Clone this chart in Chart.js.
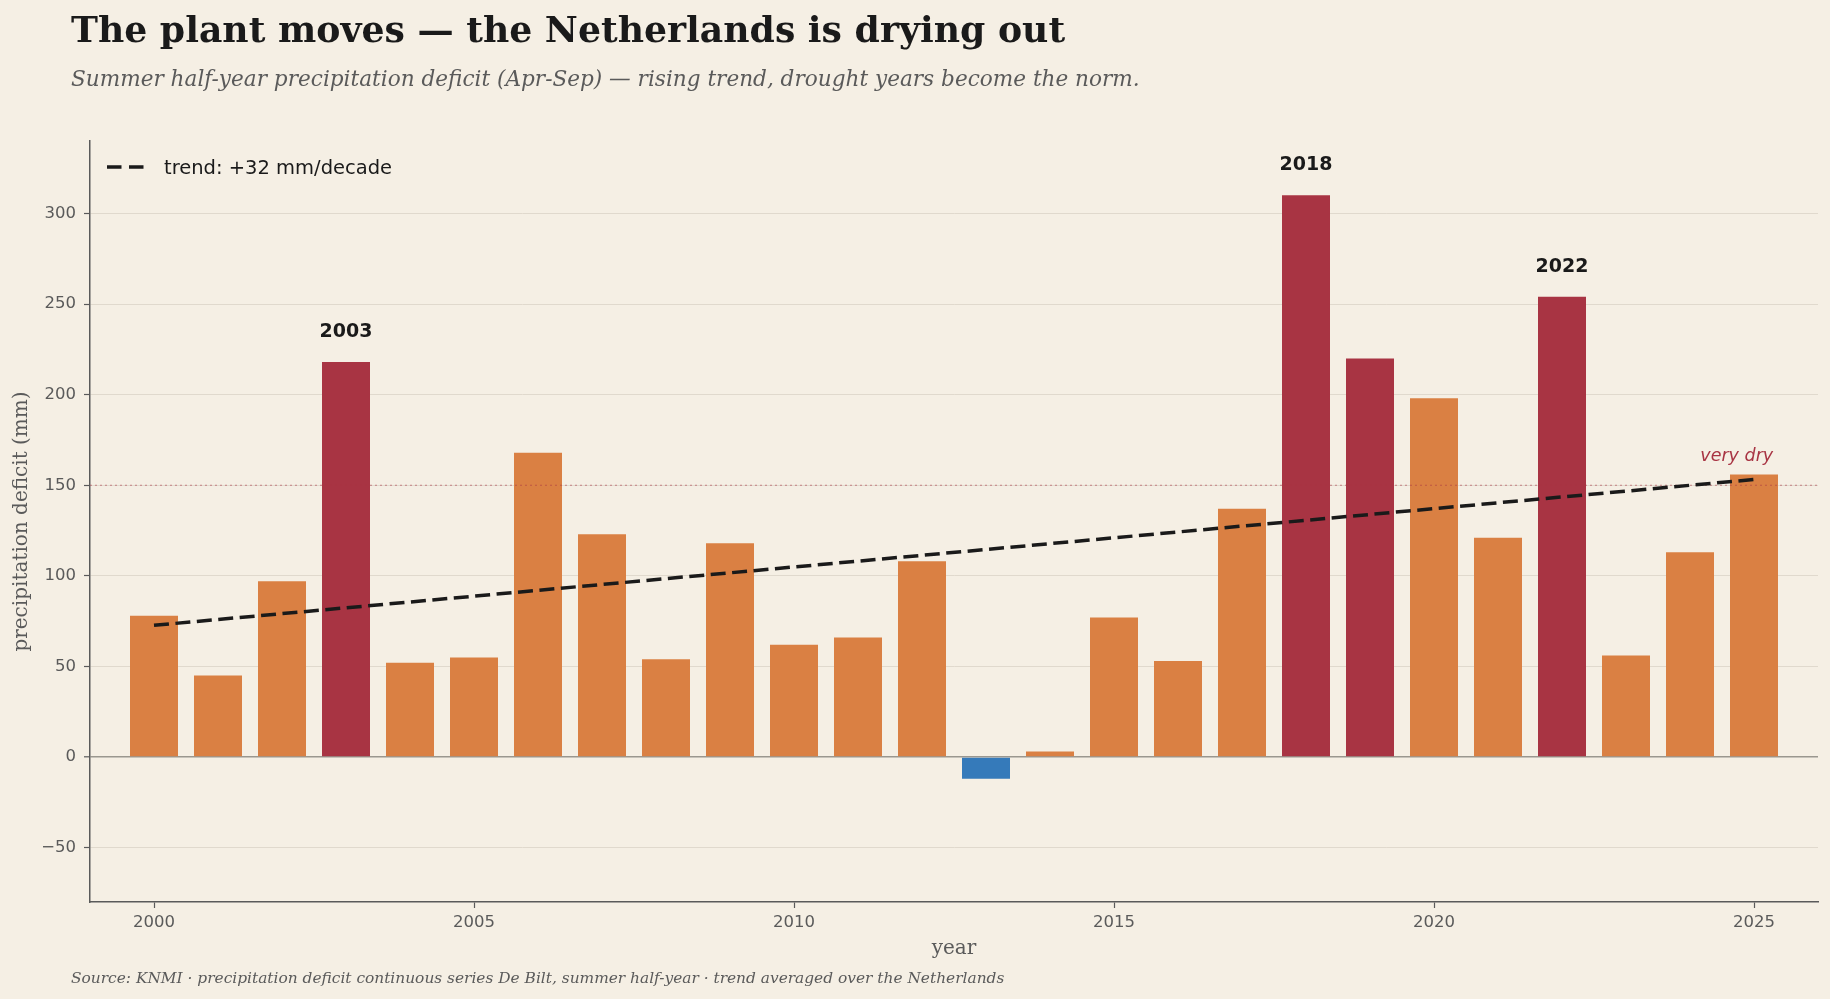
<!DOCTYPE html>
<html>
<head>
<meta charset="utf-8">
<script src="https://cdn.jsdelivr.net/npm/chart.js@4.4.1/dist/chart.umd.min.js"></script>
<style>
  html, body { margin: 0; padding: 0; background: #f5efe4; overflow: hidden; }
  canvas { display: block; }
</style>
</head>
<body>
<canvas id="deficitChart" width="1830" height="999"></canvas>
<script>
// Summer half-year precipitation deficit, De Bilt (mm)
const years = [2000, 2001, 2002, 2003, 2004, 2005, 2006, 2007, 2008, 2009, 2010, 2011, 2012,
               2013, 2014, 2015, 2016, 2017, 2018, 2019, 2020, 2021, 2022, 2023, 2024, 2025];
const deficit = [78, 45, 97, 218, 52, 55, 168, 123, 54, 118, 62, 66, 108,
                 -12, 3, 77, 53, 137, 310, 220, 198, 121, 254, 56, 113, 156];
const labelledYears = [2003, 2018, 2022];
const trendYears = [2000, 2025];
const trendValues = [72.7, 153.2];
const veryDry = 150;

const SANS = "'DejaVu Sans', sans-serif";
const SERIF = "'DejaVu Serif', serif";
const INK = '#1a1a1a';
const GREY = '#5a5a5a';

const barColors = deficit.map(v => v < 0 ? '#357aba' : v > 200 ? '#a83443' : '#da8043');

const decorations = {
    id: 'decorations',
    beforeDraw(chart) {
        const { ctx, width, height } = chart;
        ctx.save();
        ctx.fillStyle = '#f5efe4';
        ctx.fillRect(0, 0, width, height);
        ctx.restore();
    },
    beforeDatasetDraw(chart, args) {
        if (args.meta.type !== 'line') return;
        // dotted "very dry" threshold, under the trend line
        const { ctx, chartArea, scales: { y } } = chart;
        const yy = y.getPixelForValue(veryDry);
        ctx.save();
        ctx.strokeStyle = 'rgba(168,52,67,0.55)';
        ctx.lineWidth = 1.2;
        ctx.setLineDash([2, 3]);
        ctx.beginPath();
        ctx.moveTo(chartArea.left, yy);
        ctx.lineTo(chartArea.right, yy);
        ctx.stroke();
        ctx.restore();
    },
    afterDraw(chart) {
        const { ctx, chartArea, scales: { x, y } } = chart;
        ctx.save();

        ctx.textAlign = 'left';
        ctx.textBaseline = 'alphabetic';
        ctx.fillStyle = INK;
        ctx.font = `bold 36.2px ${SERIF}`;
        ctx.fillText('The plant moves — the Netherlands is drying out', 71, 41.5);

        ctx.fillStyle = GREY;
        ctx.font = `italic 21.6px ${SERIF}`;
        ctx.fillText('Summer half-year precipitation deficit (Apr-Sep) — rising trend, drought years become the norm.', 71, 86);

        ctx.font = `italic 15.4px ${SERIF}`;
        ctx.fillText('Source: KNMI · precipitation deficit continuous series De Bilt, summer half-year · trend averaged over the Netherlands', 71, 983);

        // axis titles
        ctx.font = `20px ${SERIF}`;
        ctx.textAlign = 'center';
        ctx.fillText('year', (chartArea.left + chartArea.right) / 2, 954);
        ctx.save();
        ctx.translate(22, (chartArea.top + chartArea.bottom) / 2);
        ctx.rotate(-Math.PI / 2);
        ctx.textBaseline = 'middle';
        ctx.fillText('precipitation deficit (mm)', 0, 0);
        ctx.restore();

        // record years above their bars
        ctx.fillStyle = INK;
        ctx.font = `bold 19px ${SANS}`;
        ctx.textAlign = 'center';
        labelledYears.forEach(yr => {
            const v = deficit[years.indexOf(yr)];
            ctx.fillText(String(yr), x.getPixelForValue(yr), y.getPixelForValue(v) - 25);
        });

        // threshold label
        ctx.fillStyle = '#a83443';
        ctx.font = `italic 17.5px ${SANS}`;
        ctx.textAlign = 'right';
        ctx.fillText('very dry', x.getPixelForValue(2025.3), y.getPixelForValue(veryDry) - 24);

        // legend
        const lx = chartArea.left + 17, ly = chartArea.top + 26;
        ctx.strokeStyle = INK;
        ctx.lineWidth = 3.5;
        ctx.setLineDash([14.5, 7.5]);
        ctx.beginPath();
        ctx.moveTo(lx, ly);
        ctx.lineTo(lx + 37, ly);
        ctx.stroke();
        ctx.setLineDash([]);
        ctx.fillStyle = INK;
        ctx.font = `19.5px ${SANS}`;
        ctx.textAlign = 'left';
        ctx.fillText('trend: +32 mm/decade', lx + 57, ly + 7);

        ctx.restore();
    }
};

new Chart(document.getElementById('deficitChart'), {
    type: 'bar',
    data: {
        datasets: [
            {
                type: 'bar',
                data: years.map((yr, i) => ({ x: yr, y: deficit[i] })),
                backgroundColor: barColors,
                borderWidth: 0,
                barPercentage: 0.75,
                categoryPercentage: 1.0,
                order: 2
            },
            {
                type: 'line',
                data: trendYears.map((yr, i) => ({ x: yr, y: trendValues[i] })),
                borderColor: INK,
                borderWidth: 3.5,
                borderDash: [15, 6.5],
                pointRadius: 0,
                fill: false,
                order: 1
            }
        ]
    },
    options: {
        responsive: false,
        animation: false,
        layout: { padding: { left: 0, right: 12, top: 141, bottom: 0 } },
        plugins: {
            legend: { display: false },
            tooltip: { enabled: false }
        },
        scales: {
            x: {
                type: 'linear',
                offset: false,
                min: 1999,
                max: 2026,
                grid: { offset: false, drawOnChartArea: false, tickLength: 6, tickColor: GREY, tickWidth: 1.2 },
                border: { color: GREY, width: 1.5 },
                ticks: {
                    stepSize: 5,
                    includeBounds: false,
                    padding: 5,
                    color: GREY,
                    font: { family: SANS, size: 16.5 },
                    callback: v => String(v)
                },
                afterFit: scale => { scale.height = 97; }
            },
            y: {
                min: -80,
                max: 340,
                grid: {
                    color: c => c.tick && c.tick.value === 0 ? '#9a978f' : '#e0d9cd',
                    lineWidth: c => c.tick && c.tick.value === 0 ? 1.6 : 1,
                    tickLength: 6,
                    tickColor: GREY,
                    tickWidth: 1.2
                },
                border: { color: GREY, width: 1.5 },
                ticks: {
                    stepSize: 50,
                    includeBounds: false,
                    padding: 8,
                    color: GREY,
                    font: { family: SANS, size: 16.5 },
                    callback: v => v < 0 ? '\u2212' + Math.abs(v) : String(v)
                },
                afterFit: scale => { scale.width = 90; }
            }
        }
    },
    plugins: [decorations]
});
</script>
</body>
</html>
